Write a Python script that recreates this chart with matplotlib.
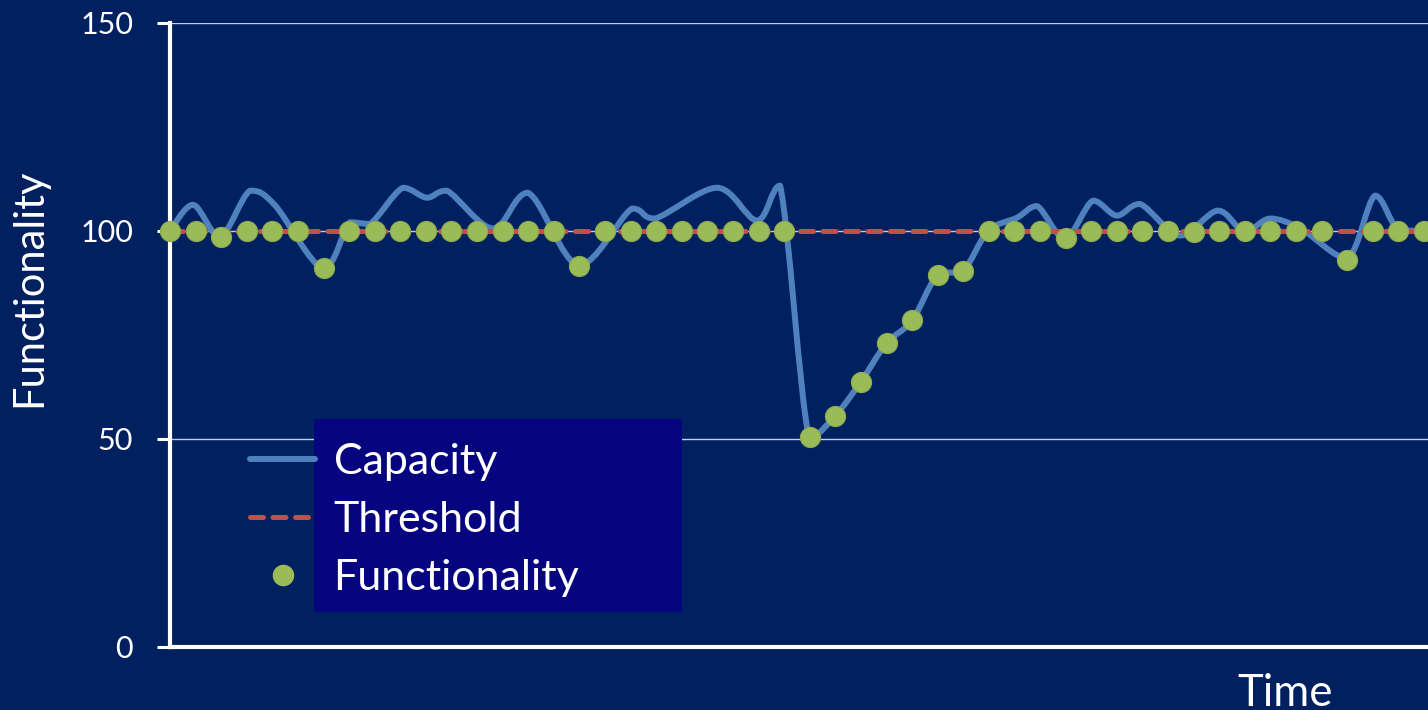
import matplotlib
matplotlib.use("Agg")
import matplotlib.pyplot as plt
from matplotlib.path import Path
from matplotlib.patches import PathPatch, Rectangle
from matplotlib.lines import Line2D
import numpy as np

plt.rcParams['font.family'] = ['Lato', 'DejaVu Sans']

# ---- data ----
time_idx = list(range(50))
functionality = [100, 100, 98.5, 100, 100, 100, 91, 100, 100, 100,
                 100, 100, 100, 100, 100, 100, 91.5, 100, 100, 100,
                 100, 100, 100, 100, 100, 50.5, 55.6, 63.8, 73, 78.5,
                 89.5, 90.5, 100, 100, 100, 98.3, 100, 100, 100, 100,
                 99.8, 100, 100, 100, 100, 100, 93.1, 100, 100, 100]
threshold_x = [0, 49.16]
threshold_y = [100, 100]
cap_x = [0, 0.9, 1.95, 3.13, 4.1, 5.98, 7.03, 7.82, 9.1, 10.04, 10.82, 12.62,
         13.99, 15.98, 18.05, 18.95, 21.38, 22.94, 23.84, 24.97, 26, 27, 28,
         29, 30, 31, 31.97, 33.1, 33.88, 34.97, 36.07, 37.0, 37.9, 39.47,
         40.95, 42.0, 42.99, 44.2, 45.99, 47.09, 48.0, 49.16]
cap_y = [100, 106.3, 98.6, 109.7, 106.2, 91.0, 102.1, 101.7, 110.4, 108.0,
         109.7, 100.6, 109.2, 91.7, 105.4, 103.0, 110.4, 102.5, 110.9, 50.4,
         55.6, 63.8, 73.0, 78.5, 89.5, 90.5, 100, 103.2, 106.0, 98.2, 107.3,
         103.7, 106.5, 98.9, 104.9, 99.8, 103.0, 100.5, 93.4, 108.5, 100.3, 100]
y_ticks = [0, 50, 100, 150]
labels = ['Capacity', 'Threshold', 'Functionality']

# ---- style ----
BG = '#002060'
CAP_C = '#4F81BD'
THR_C = '#C0504D'
FUN_C = '#9BBB59'
BOX_C = '#06057F'

W, H = 1428, 710
fig = plt.figure(figsize=(W / 100, H / 100), dpi=100, facecolor=BG)
ax = fig.add_axes([170 / W, 1 - 647 / H, (1428 - 170) / W, (647 - 23) / H])
ax.set_facecolor(BG)
ax.set_xlim(0, 49.16)
ax.set_ylim(0, 150)
ax.set_axisbelow(True)

# smooth capacity curve: cubic Bezier segments through the knots
# (Catmull-Rom tangents, control heights kept within each segment's range)
P = np.column_stack([cap_x, cap_y]).astype(float)
verts = [tuple(P[0])]
codes = [Path.MOVETO]
n = len(P)
for i in range(n - 1):
    p0 = P[i - 1] if i > 0 else P[i]
    p1 = P[i]
    p2 = P[i + 1]
    p3 = P[i + 2] if i + 2 < n else P[i + 1]
    c1 = p1 + (p2 - p0) / 6.0
    c2 = p2 - (p3 - p1) / 6.0
    lo, hi = min(p1[1], p2[1]), max(p1[1], p2[1])
    c1[1] = min(max(c1[1], lo), hi)
    c2[1] = min(max(c2[1], lo), hi)
    verts += [tuple(c1), tuple(c2), tuple(p2)]
    codes += [Path.CURVE4] * 3
cap_patch = PathPatch(Path(verts, codes), fill=False, edgecolor=CAP_C, lw=4.3,
                      capstyle='round', joinstyle='round', zorder=2)
ax.add_patch(cap_patch)

ax.plot(threshold_x, threshold_y, color=THR_C, lw=3.6, dashes=(2.6, 1.9),
        dash_capstyle='round', zorder=3)
ax.plot(time_idx, functionality, linestyle='none', marker='o', ms=14.5,
        mfc=FUN_C, mec='#8DAA4F', mew=0.8, zorder=4, clip_on=False)

# axes styling
for s in ['top', 'right']:
    ax.spines[s].set_visible(False)
ax.spines['left'].set_color('white')
ax.spines['left'].set_linewidth(3)
ax.spines['bottom'].set_color('white')
ax.spines['bottom'].set_linewidth(3)
ax.set_yticks(y_ticks)
ax.set_xticks([])
ax.tick_params(axis='y', colors='white', direction='out', length=9.5, width=2.2,
               pad=17, labelsize=22)
ax.yaxis.grid(True, color='#C9CEDD', lw=1.0)

fig.text(29 / W, 1 - 288 / H, 'Functionality', rotation=90, ha='center',
         va='center', color='white', fontsize=30)
fig.text(1285 / W, 1 - 706 / H, 'Time', ha='center', va='baseline',
         color='white', fontsize=31.5)

# legend with box behind labels
handles = [Line2D([], [], color=CAP_C, lw=4.3, solid_capstyle='round'),
           Line2D([], [], color=THR_C, lw=3.6, dashes=(2.6, 1.9), dash_capstyle='round'),
           Line2D([], [], linestyle='none', marker='o', ms=14.5, mfc=FUN_C, mec=FUN_C)]
box = Rectangle((314 / W, 1 - 612 / H), (682 - 314) / W, (612 - 419) / H,
                transform=fig.transFigure, facecolor=BOX_C, edgecolor='none',
                zorder=4.5, clip_on=False)
ax.add_patch(box)
leg = ax.legend(handles, labels, loc='upper left',
                bbox_to_anchor=(250 / W, 1 - 443 / H), bbox_transform=fig.transFigure,
                frameon=False, fontsize=31, handlelength=1.52, handletextpad=0.42,
                labelspacing=0.47, borderpad=0, borderaxespad=0)
for t in leg.get_texts():
    t.set_color('white')
leg.set_zorder(5)

fig.savefig('out.png', dpi=100, facecolor=BG)
